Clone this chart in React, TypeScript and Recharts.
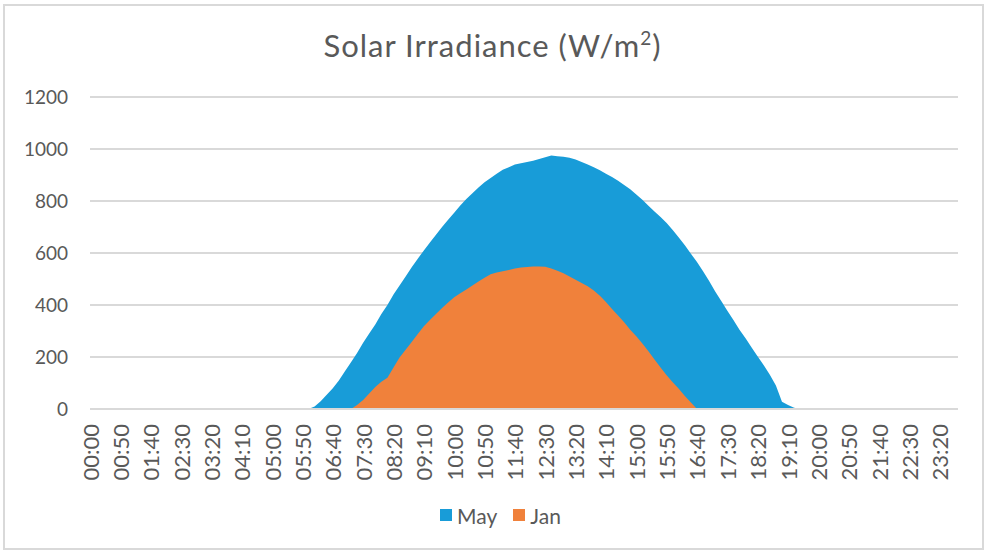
import React from "react";
import { Area, AreaChart, CartesianGrid, Legend, XAxis, YAxis } from "recharts";

// 10-minute slots, 00:00 .. 23:50
const TIMES: string[] = Array.from({ length: 144 }, (_, i) => {
  const h = Math.floor(i / 6);
  const m = (i % 6) * 10;
  return `${String(h).padStart(2, "0")}:${String(m).padStart(2, "0")}`;
});

// one row = 2 hours
const MAY: number[] = [
  0, 0, 0, 0, 0, 0, 0, 0, 0, 0, 0, 0,
  0, 0, 0, 0, 0, 0, 0, 0, 0, 0, 0, 0,
  0, 0, 0, 0, 0, 0, 0, 0, 0, 0, 0, 0,
  0, 10, 30, 55, 80, 110, 145, 180, 215, 255, 290, 325,
  365, 400, 440, 475, 510, 545, 578, 610, 640, 670, 700, 728,
  755, 783, 808, 830, 852, 872, 888, 905, 920, 930, 940, 945,
  950, 955, 962, 968, 975, 972, 970, 966, 960, 950, 940, 930,
  918, 905, 892, 878, 862, 845, 825, 805, 782, 760, 738, 715,
  688, 660, 630, 597, 565, 530, 492, 452, 415, 378, 342, 305,
  272, 237, 202, 168, 132, 90, 28, 15, 5, 0, 0, 0,
  0, 0, 0, 0, 0, 0, 0, 0, 0, 0, 0, 0,
  0, 0, 0, 0, 0, 0, 0, 0, 0, 0, 0, 0,
];

const JAN: number[] = [
  0, 0, 0, 0, 0, 0, 0, 0, 0, 0, 0, 0,
  0, 0, 0, 0, 0, 0, 0, 0, 0, 0, 0, 0,
  0, 0, 0, 0, 0, 0, 0, 0, 0, 0, 0, 0,
  0, 0, 0, 0, 0, 0, 0, 0, 15, 35, 60, 85,
  105, 120, 160, 198, 228, 258, 288, 318, 342, 365, 388, 410,
  430, 445, 460, 475, 490, 505, 518, 525, 530, 535, 540, 544,
  546, 548, 548, 547, 540, 532, 522, 510, 497, 485, 472, 456,
  436, 412, 385, 360, 334, 305, 280, 252, 222, 190, 160, 130,
  103, 78, 50, 25, 0, 0, 0, 0, 0, 0, 0, 0,
  0, 0, 0, 0, 0, 0, 0, 0, 0, 0, 0, 0,
  0, 0, 0, 0, 0, 0, 0, 0, 0, 0, 0, 0,
  0, 0, 0, 0, 0, 0, 0, 0, 0, 0, 0, 0,
];

const Y_TICKS = [0, 200, 400, 600, 800, 1000, 1200];

const SERIES = [
  { key: "May", color: "#189CD8" },
  { key: "Jan", color: "#F0813B" },
];

const data = TIMES.map((t, i) => ({ time: t, May: MAY[i], Jan: JAN[i] }));

const FONT = "Lato, 'Open Sans', sans-serif";
const TEXT = "#595959";

function TimeTick({ x, y, payload }: { x?: number; y?: number; payload?: { value: string } }) {
  const ty = (y ?? 0) + 13;
  return (
    <text
      x={x}
      y={ty}
      transform={`rotate(-90, ${x}, ${ty})`}
      textAnchor="end"
      dominantBaseline="central"
      fill={TEXT}
      fontSize={22}
      fontFamily={FONT}
    >
      {payload?.value}
    </text>
  );
}

function SquareLegend() {
  return (
    <div
      style={{
        display: "flex",
        justifyContent: "center",
        alignItems: "center",
        height: 30,
        paddingLeft: 16,
        fontFamily: FONT,
        fontSize: 21,
        color: TEXT,
      }}
    >
      {SERIES.map((s) => (
        <span key={s.key} style={{ display: "inline-flex", alignItems: "center", margin: "0 8px" }}>
          <span style={{ width: 12, height: 12, background: s.color, marginRight: 5 }} />
          {s.key}
        </span>
      ))}
    </div>
  );
}

export default function App() {
  return (
    <div style={{ position: "fixed", left: 0, top: 0, width: 985, height: 551, background: "#fff" }}>
      <div
        style={{
          position: "absolute",
          left: 3,
          top: 4,
          width: 977,
          height: 542,
          border: "2px solid #D9D9D9",
        }}
      />
      <div
        style={{
          position: "absolute",
          left: 0,
          top: 27,
          width: 985,
          textAlign: "center",
          fontFamily: FONT,
          fontSize: 31,
          letterSpacing: 1,
          color: TEXT,
          lineHeight: "36px",
        }}
      >
        Solar Irradiance (W/m<sup style={{ fontSize: 19, verticalAlign: "top", lineHeight: "22px" }}>2</sup>)
      </div>
      <div style={{ position: "absolute", left: 0, top: 0 }}>
        <AreaChart
          width={985}
          height={551}
          data={data}
          margin={{ top: 97, right: 27, bottom: 32, left: 0 }}
        >
          <CartesianGrid vertical={false} stroke="#D9D9D9" strokeWidth={2} />
          <XAxis
            dataKey="time"
            interval={4}
            tickLine={false}
            tickSize={0}
            axisLine={{ stroke: "#D9D9D9", strokeWidth: 2 }}
            height={80}
            tick={<TimeTick />}
          />
          <YAxis
            domain={[0, 1200]}
            ticks={Y_TICKS}
            width={90}
            axisLine={false}
            tickLine={false}
            tickSize={0}
            tickMargin={22}
            tick={{ fill: TEXT, fontSize: 19, fontFamily: FONT }}
          />
          {SERIES.map((s) => (
            <Area
              key={s.key}
              type="linear"
              dataKey={s.key}
              stroke="none"
              fill={s.color}
              fillOpacity={1}
              isAnimationActive={false}
              dot={false}
              activeDot={false}
            />
          ))}
          <Legend content={<SquareLegend />} wrapperStyle={{ top: 500, left: 0, width: 985, height: 30 }} />
        </AreaChart>
      </div>
    </div>
  );
}
